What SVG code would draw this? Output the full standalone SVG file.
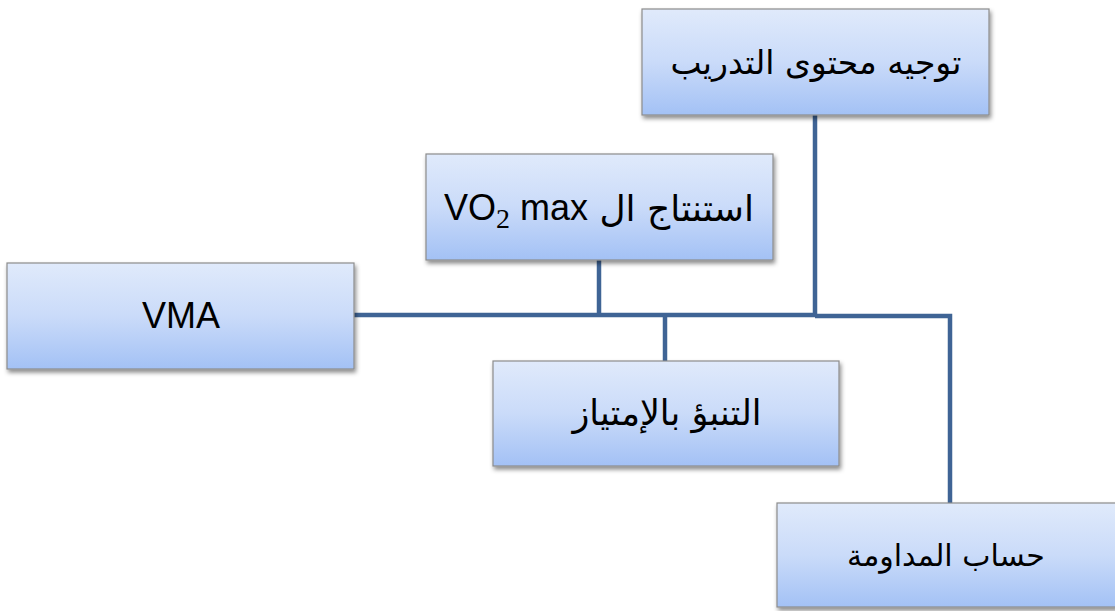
<svg xmlns="http://www.w3.org/2000/svg" width="1115" height="611" viewBox="0 0 1115 611">
<style>
.box{fill:url(#g);stroke:#8c8c8c;stroke-width:1.2;filter:url(#sh)}
.t{font-family:"Liberation Sans","DejaVu Sans",sans-serif;font-size:36px;fill:#000}
.ar{font-family:"DejaVu Sans","Liberation Sans",sans-serif;font-size:33px;fill:#000}
.c{fill:none;stroke:#3f6495;stroke-width:4.5}
</style>
<defs>
<linearGradient id="g" x1="0" y1="0" x2="0" y2="1">
<stop offset="0" stop-color="#e0eafb"/>
<stop offset="0.5" stop-color="#cadbf9"/>
<stop offset="1" stop-color="#a3c1f5"/>
</linearGradient>
<filter id="sh" x="-5%" y="-5%" width="115%" height="125%">
<feDropShadow dx="1.5" dy="3" stdDeviation="2" flood-color="#000" flood-opacity="0.45"/>
</filter>
</defs>
<g id="connectors">
<path class="c" d="M354 315 H815"/>
<path class="c" d="M815 115 V315"/>
<path class="c" d="M599 260 V315"/>
<path class="c" d="M665 315 V361"/>
<path class="c" d="M815 316 H950 V503"/>
</g>
<g id="n1">
<rect class="box" x="642" y="9" width="347" height="106"/>
<text class="ar" x="816" y="74" text-anchor="middle" direction="rtl">توجيه محتوى التدريب</text>
</g>
<g id="n2">
<rect class="box" x="426" y="154" width="347" height="106"/>
<text class="ar" x="754" y="221" text-anchor="start" direction="rtl" style="font-size:36px">استنتاج ال</text>
<text class="t" x="444" y="220">VO<tspan style="font-family:'Liberation Serif';font-size:28px" dy="8">2</tspan><tspan dy="-8"> max</tspan></text>
</g>
<g id="n3">
<rect class="box" x="7" y="263" width="347" height="106"/>
<text class="t" x="181" y="328" text-anchor="middle">VMA</text>
</g>
<g id="n4">
<rect class="box" x="493" y="361" width="346" height="105"/>
<text class="ar" x="667" y="425" text-anchor="middle" direction="rtl" style="font-size:35px">التنبؤ بالإمتياز</text>
</g>
<g id="n5">
<rect class="box" x="777" y="503" width="340" height="104"/>
<text class="ar" x="946" y="566" text-anchor="middle" direction="rtl" style="font-size:30px">حساب المداومة</text>
</g>
</svg>
